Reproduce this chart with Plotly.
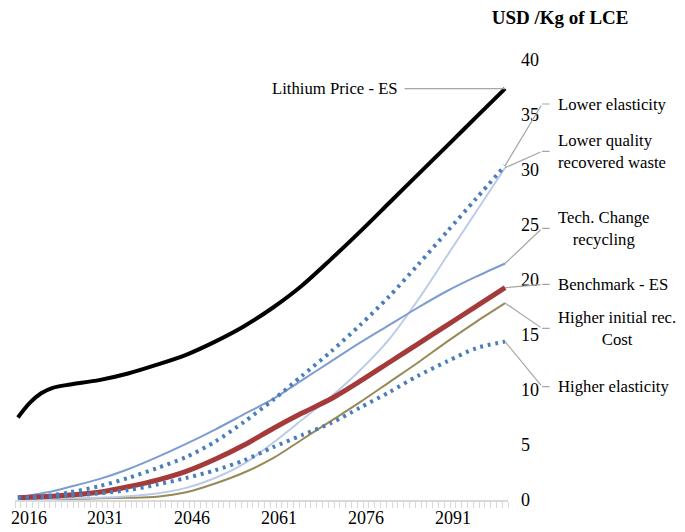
import plotly.graph_objects as go

# years (2016 .. 2100)
years = [2016, 2018, 2020, 2022, 2025, 2030, 2035, 2040, 2045, 2050,
         2055, 2060, 2065, 2070, 2075, 2080, 2085, 2090, 2095, 2100]

lithium_es = [7.5, 8.8, 9.7, 10.2, 10.5, 10.9, 11.5, 12.3, 13.2, 14.4,
              15.8, 17.5, 19.5, 21.9, 24.4, 27.0, 29.6, 32.2, 34.8, 37.4]
lower_elasticity = [0.2, 0.25, 0.35, 0.45, 0.7, 1.25, 2.0, 2.9, 3.9, 5.3,
                    7.1, 9.1, 11.3, 13.5, 15.9, 18.5, 21.4, 24.4, 27.4, 30.4]
lower_quality = [0.1, 0.1, 0.1, 0.1, 0.15, 0.2, 0.35, 0.6, 1.1, 2.0,
                 3.3, 5.2, 7.3, 9.4, 11.8, 14.6, 18.2, 22.2, 26.2, 30.2]
tech_change = [0.3, 0.4, 0.6, 0.8, 1.2, 1.9, 2.8, 3.9, 5.1, 6.4,
               7.8, 9.2, 10.9, 12.6, 14.3, 15.9, 17.5, 19.0, 20.3, 21.5]
benchmark_es = [0.2, 0.25, 0.3, 0.35, 0.45, 0.7, 1.2, 1.8, 2.6, 3.7,
                5.0, 6.5, 7.9, 9.2, 10.8, 12.5, 14.2, 15.9, 17.6, 19.3]
higher_cost = [0.1, 0.1, 0.1, 0.1, 0.1, 0.15, 0.2, 0.3, 0.7, 1.5,
               2.5, 3.8, 5.5, 7.2, 8.9, 10.7, 12.5, 14.4, 16.2, 17.9]
higher_elasticity = [0.2, 0.2, 0.25, 0.3, 0.4, 0.6, 0.9, 1.4, 2.0, 2.7,
                     3.6, 4.8, 5.9, 7.0, 8.4, 9.8, 11.3, 12.6, 13.8, 14.4]

tick_years = [2016, 2031, 2046, 2061, 2076, 2091]
tick_text = ["", "2031", "2046", "2061", "2076", "2091"]  # 2016 drawn separately

FONT = "Liberation Serif"
GREY = "#a6a6a6"
DOT = "3px,4.7px"

# name, values, colour, width, dash, label text, label height (y units), align
series = [
    ("Higher initial rec. Cost", higher_cost, "#968a55", 2, "solid",
     "Higher initial rec.<br>Cost", 15.6, "center"),
    ("Lower quality recovered waste", lower_quality, "#bccbe8", 2, "solid",
     "Lower quality<br>recovered waste", 31.7, "left"),
    ("Tech. Change recycling", tech_change, "#7c9cd2", 2, "solid",
     "Tech. Change<br>recycling", 24.7, "center"),
    ("Benchmark - ES", benchmark_es, "#a53a3b", 5, "solid",
     "Benchmark - ES", 19.6, "left"),
    ("Higher elasticity", higher_elasticity, "#4a7ebb", 4, DOT,
     "Higher elasticity", 10.3, "left"),
    ("Lower elasticity", lower_elasticity, "#4a7ebb", 4, DOT,
     "Lower elasticity", 36.0, "left"),
    ("Lithium Price - ES", lithium_es, "#000000", 4, "solid",
     "Lithium Price - ES", 37.4, "left"),
]

fig = go.Figure()
for name, vals, col, w, dash, _, _, _ in series:
    fig.add_trace(go.Scatter(x=years, y=vals, name=name, mode="lines",
                             line=dict(color=col, width=w, dash=dash,
                                       shape="spline", smoothing=0.8)))

lab_font = dict(family=FONT, size=16.7, color="black")
anns = []
for name, vals, col, w, dash, label, ly, al in series:
    if name == "Lithium Price - ES":
        anns.append(dict(x=years[-1], y=vals[-1], xref="x", yref="y", text="",
                         showarrow=True, arrowhead=0, arrowwidth=1.2, arrowcolor=GREY,
                         axref="pixel", ax=-102, ayref="y", ay=ly, standoff=0))
        anns.append(dict(x=years[-1], y=ly, xref="x", yref="y", text=label,
                         showarrow=False, xanchor="right", yanchor="middle",
                         xshift=-105, font=lab_font))
        continue
    # diagonal leader to the elbow
    anns.append(dict(x=years[-1], y=vals[-1], xref="x", yref="y", text="",
                     showarrow=True, arrowhead=0, arrowwidth=1.2, arrowcolor=GREY,
                     axref="pixel", ax=37, ayref="y", ay=ly, standoff=0))
    # short horizontal bit
    anns.append(dict(x=years[-1], y=ly, xref="x", yref="y", text="", xshift=37,
                     showarrow=True, arrowhead=0, arrowwidth=1.2, arrowcolor=GREY,
                     ax=9, ay=0, standoff=0))
    anns.append(dict(x=years[-1], y=ly, xref="x", yref="y", text=label,
                     showarrow=False, xanchor="left", yanchor="middle", xshift=51,
                     align=al, font=lab_font))

# first year label kept inside the page's left edge
anns.append(dict(x=tick_years[0], y=0, xref="x", yref="paper", text=str(tick_years[0]),
                 showarrow=False, xanchor="left", yanchor="top", xshift=-9, yshift=-6,
                 font=dict(family=FONT, size=18, color="black")))

# page body has an 8px margin, so margins are offset to compensate
fig.update_layout(
    width=685, height=532,
    margin=dict(l=7, r=185, t=52, b=40, autoexpand=False),
    paper_bgcolor="white", plot_bgcolor="white",
    showlegend=False,
    font=dict(family=FONT, size=18, color="black"),
    title=dict(text="<b>USD /Kg of LCE</b>", x=0.806, xanchor="center",
               y=0.995, yanchor="top", pad=dict(t=0),
               font=dict(family=FONT, size=19, color="black")),
    annotations=anns,
)
fig.update_xaxes(range=[2015.5, 2100.5], tickmode="array", tickvals=tick_years,
                 ticktext=tick_text,
                 ticks="", ticklabelstandoff=1, automargin=False,
                 showline=True, linecolor="#d9d9d9", linewidth=1.5,
                 showgrid=False, zeroline=False,
                 minor=dict(ticks="outside", ticklen=6, tickcolor="#d9d9d9",
                            tickmode="linear", tick0=2015.5, dtick=1, showgrid=False),
                 tickfont=dict(family=FONT, size=18))
fig.update_yaxes(range=[0, 40], side="right", dtick=5, showline=False,
                 showgrid=False, zeroline=False, ticks="", automargin=False,
                 ticklabelstandoff=12,
                 tickfont=dict(family=FONT, size=18))

fig.write_html("out.html")
